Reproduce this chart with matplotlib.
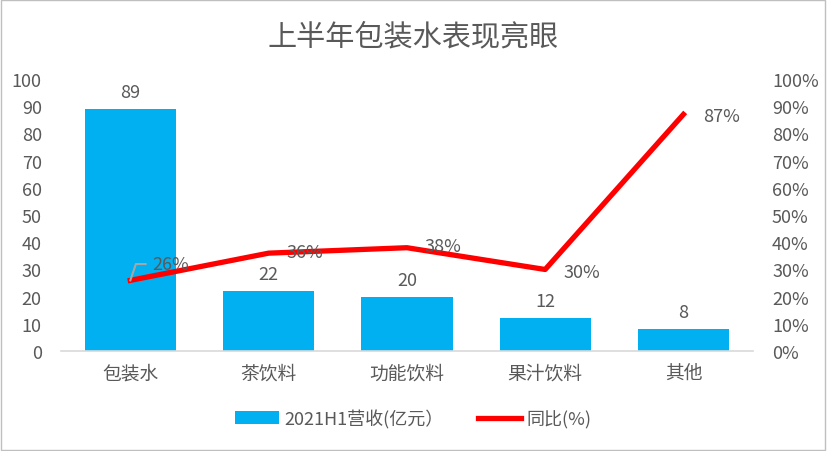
import matplotlib.pyplot as plt
import numpy as np

plt.rcParams['font.family'] = ['Noto Sans CJK SC', 'DejaVu Sans']

categories = ['包装水', '茶饮料', '功能饮料', '果汁饮料', '其他']
revenue = [89, 22, 20, 12, 8]
yoy = [26, 36, 38, 30, 87]

txt = '#595959'
fig = plt.figure(figsize=(8.27, 4.52), dpi=100)
ax = fig.add_axes([0.074, 0.221, 0.836, 0.602])
ax2 = ax.twinx()

x = np.arange(len(categories))
bars = ax.bar(x, revenue, width=0.66, color='#00B0F0', label='2021H1营收(亿元）', zorder=2)
line, = ax2.plot(x, yoy, color='#FF0000', lw=3.8, label='同比(%)', solid_joinstyle='round')

ax.set_ylim(0, 100)
ax.set_yticks(range(0, 101, 10))
ax2.set_ylim(0, 100)
ax2.set_yticks(range(0, 101, 10))
ax2.set_yticklabels([f'{v}%' for v in range(0, 101, 10)])
ax.set_xlim(-0.5, 4.5)
ax.set_xticks(x)
ax.set_xticklabels(categories)

for a in (ax, ax2):
    for s in a.spines.values():
        s.set_visible(False)
    a.tick_params(length=0, labelsize=13, colors=txt)
ax.spines['bottom'].set_visible(True)
ax.spines['bottom'].set_color('#D9D9D9')
ax.spines['bottom'].set_linewidth(1.2)
ax.tick_params(axis='x', labelsize=13.5, pad=8)
ax.tick_params(axis='y', pad=14)
ax2.tick_params(axis='y', pad=14)

for xi, v in zip(x, revenue):
    ax.text(xi, v + 3, str(v), ha='center', va='bottom', fontsize=13, color=txt)

offsets = [(0.16, 6), (0.13, 0.5), (0.13, 0.5), (0.13, -1), (0.14, -0.5)]
for xi, v, (dx, dy) in zip(x, yoy, offsets):
    ax2.text(xi + dx, v + dy, f'{v}%', ha='left', va='center', fontsize=13, color=txt)
ax2.plot([x[0], x[0] + 0.04, x[0] + 0.11], [yoy[0], yoy[0] + 6, yoy[0] + 6], color='#A6A6A6', lw=1.5)

fig.suptitle('上半年包装水表现亮眼', y=0.95, fontsize=21, color=txt)
fig.legend(handles=[bars, line], loc='center', bbox_to_anchor=(0.5, 0.072), ncol=2,
           frameon=False, fontsize=13, labelcolor=txt, handlelength=2.4, columnspacing=1.9,
           handletextpad=0.3)
fig.patches.append(plt.Rectangle((0.001, 0.002), 0.997, 0.995, transform=fig.transFigure,
                                 fill=False, edgecolor='#BFBFBF', lw=1))
fig.savefig('out.png', dpi=100)
